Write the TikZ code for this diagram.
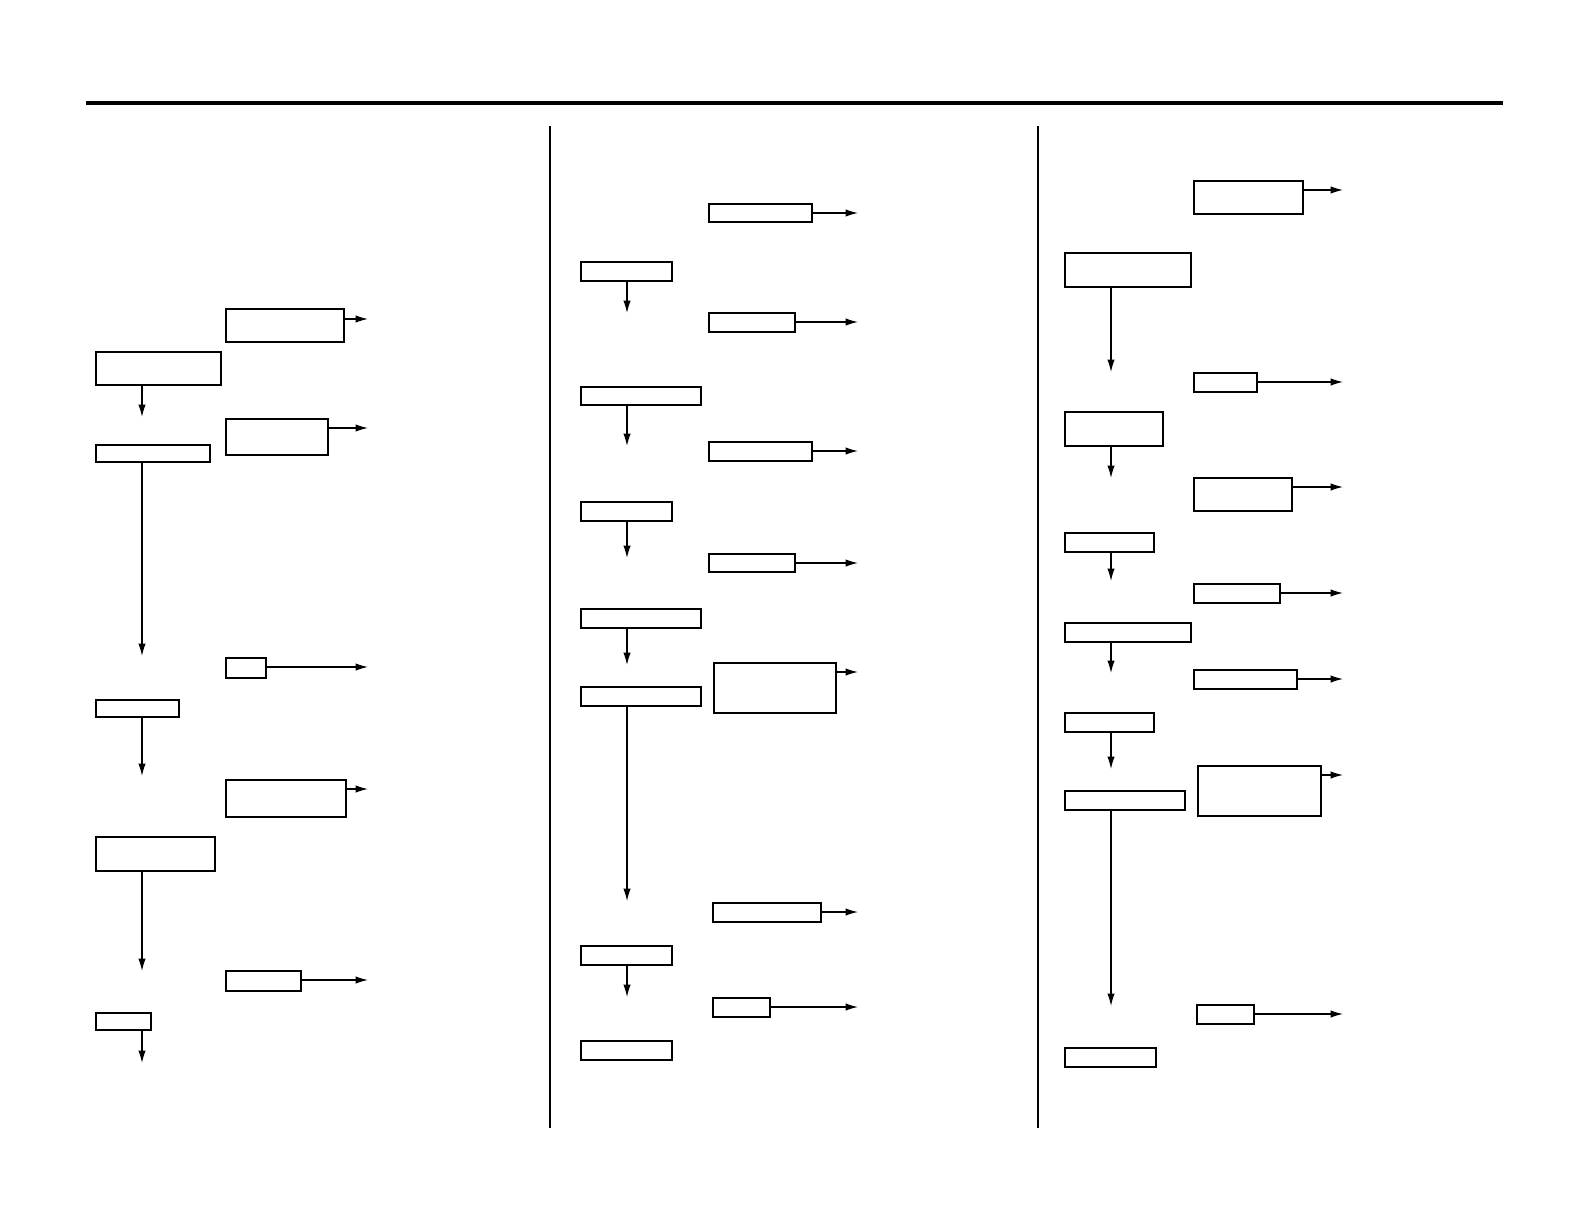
\documentclass[tikz,border=0pt]{standalone}
\usetikzlibrary{arrows.meta,fit}

\begin{document}
\begin{tikzpicture}[x=0.02cm, y=-0.02cm,
  block/.style={draw, line width=0.8pt, inner sep=0pt},
  flow/.style={-{Latex[length=2.5mm, width=1.5mm]}, line width=0.7pt}]

  \useasboundingbox (0,0) rectangle (1588,1223);

  % Frame
  \draw[line width=2.3pt] (86,103) -- (1503,103);
  \draw[line width=1.3pt] (550,126) -- (550,1128);
  \draw[line width=1.3pt] (1038,126) -- (1038,1128);

  % Left column
  \node[block, fit={(96,352) (221,385)}] (Lb) {};
  \node[block, fit={(96,445) (210,462)}] (Ld) {};
  \node[block, fit={(96,700) (179,717)}] (Lf) {};
  \node[block, fit={(96,837) (215,871)}] (Lh) {};
  \node[block, fit={(96,1013) (151,1030)}] (Lj) {};

  \node[block, fit={(226,309) (344,342)}] (La) {};
  \node[block, fit={(226,419) (328,455)}] (Lc) {};
  \node[block, fit={(226,658) (266,678)}] (Le) {};
  \node[block, fit={(226,780) (346,817)}] (Lg) {};
  \node[block, fit={(226,971) (301,991)}] (Li) {};

  \coordinate (lb) at (142,417);
  \coordinate (ld) at (142,656);
  \coordinate (lf) at (142,776);
  \coordinate (lh) at (142,971);
  \coordinate (lj) at (142,1063);
  \coordinate (la) at (368,319);
  \coordinate (lc) at (368,428);
  \coordinate (le) at (368,667);
  \coordinate (lg) at (368,789);
  \coordinate (li) at (368,980);

  \draw[flow] (Lb.south -| lb) -- (lb);
  \draw[flow] (Ld.south -| ld) -- (ld);
  \draw[flow] (Lf.south -| lf) -- (lf);
  \draw[flow] (Lh.south -| lh) -- (lh);
  \draw[flow] (Lj.south -| lj) -- (lj);
  \draw[flow] (La.east |- la) -- (la);
  \draw[flow] (Lc.east |- lc) -- (lc);
  \draw[flow] (Le.east |- le) -- (le);
  \draw[flow] (Lg.east |- lg) -- (lg);
  \draw[flow] (Li.east |- li) -- (li);

  % Middle column
  \node[block, fit={(581,262) (672,281)}] (Mb) {};
  \node[block, fit={(581,387) (701,405)}] (Md) {};
  \node[block, fit={(581,502) (672,521)}] (Mf) {};
  \node[block, fit={(581,609) (701,628)}] (Mh) {};
  \node[block, fit={(581,687) (701,706)}] (Mj) {};
  \node[block, fit={(581,946) (672,965)}] (Ml) {};
  \node[block, fit={(581,1041) (672,1060)}] (Mn) {};

  \node[block, fit={(709,204) (812,222)}] (Ma) {};
  \node[block, fit={(709,313) (795,332)}] (Mc) {};
  \node[block, fit={(709,442) (812,461)}] (Me) {};
  \node[block, fit={(709,554) (795,572)}] (Mg) {};
  \node[block, fit={(714,663) (836,713)}] (Mi) {};
  \node[block, fit={(713,903) (821,922)}] (Mk) {};
  \node[block, fit={(713,998) (770,1017)}] (Mm) {};

  \coordinate (mb) at (627,313);
  \coordinate (md) at (627,446);
  \coordinate (mf) at (627,558);
  \coordinate (mh) at (627,665);
  \coordinate (mj) at (627,901);
  \coordinate (ml) at (627,997);
  \coordinate (ma) at (858,213);
  \coordinate (mc) at (858,322);
  \coordinate (me) at (858,451);
  \coordinate (mg) at (858,563);
  \coordinate (mi) at (858,672);
  \coordinate (mk) at (858,912);
  \coordinate (mm) at (858,1007);

  \draw[flow] (Mb.south -| mb) -- (mb);
  \draw[flow] (Md.south -| md) -- (md);
  \draw[flow] (Mf.south -| mf) -- (mf);
  \draw[flow] (Mh.south -| mh) -- (mh);
  \draw[flow] (Mj.south -| mj) -- (mj);
  \draw[flow] (Ml.south -| ml) -- (ml);
  \draw[flow] (Ma.east |- ma) -- (ma);
  \draw[flow] (Mc.east |- mc) -- (mc);
  \draw[flow] (Me.east |- me) -- (me);
  \draw[flow] (Mg.east |- mg) -- (mg);
  \draw[flow] (Mi.east |- mi) -- (mi);
  \draw[flow] (Mk.east |- mk) -- (mk);
  \draw[flow] (Mm.east |- mm) -- (mm);

  % Right column
  \node[block, fit={(1065,253) (1191,287)}] (Rb) {};
  \node[block, fit={(1065,412) (1163,446)}] (Rd) {};
  \node[block, fit={(1065,533) (1154,552)}] (Rf) {};
  \node[block, fit={(1065,623) (1191,642)}] (Rh) {};
  \node[block, fit={(1065,713) (1154,732)}] (Rj) {};
  \node[block, fit={(1065,791) (1185,810)}] (Rl) {};
  \node[block, fit={(1065,1048) (1156,1067)}] (Rn) {};

  \node[block, fit={(1194,181) (1303,214)}] (Ra) {};
  \node[block, fit={(1194,373) (1257,392)}] (Rc) {};
  \node[block, fit={(1194,478) (1292,511)}] (Re) {};
  \node[block, fit={(1194,584) (1280,603)}] (Rg) {};
  \node[block, fit={(1194,670) (1297,689)}] (Ri) {};
  \node[block, fit={(1198,766) (1321,816)}] (Rk) {};
  \node[block, fit={(1197,1005) (1254,1024)}] (Rm) {};

  \coordinate (rb) at (1111,372);
  \coordinate (rd) at (1111,478);
  \coordinate (rf) at (1111,581);
  \coordinate (rh) at (1111,673);
  \coordinate (rj) at (1111,769);
  \coordinate (rl) at (1111,1006);
  \coordinate (ra) at (1343,190);
  \coordinate (rc) at (1343,382);
  \coordinate (re) at (1343,487);
  \coordinate (rg) at (1343,593);
  \coordinate (ri) at (1343,679);
  \coordinate (rk) at (1343,775);
  \coordinate (rm) at (1343,1014);

  \draw[flow] (Rb.south -| rb) -- (rb);
  \draw[flow] (Rd.south -| rd) -- (rd);
  \draw[flow] (Rf.south -| rf) -- (rf);
  \draw[flow] (Rh.south -| rh) -- (rh);
  \draw[flow] (Rj.south -| rj) -- (rj);
  \draw[flow] (Rl.south -| rl) -- (rl);
  \draw[flow] (Ra.east |- ra) -- (ra);
  \draw[flow] (Rc.east |- rc) -- (rc);
  \draw[flow] (Re.east |- re) -- (re);
  \draw[flow] (Rg.east |- rg) -- (rg);
  \draw[flow] (Ri.east |- ri) -- (ri);
  \draw[flow] (Rk.east |- rk) -- (rk);
  \draw[flow] (Rm.east |- rm) -- (rm);

\end{tikzpicture}
\end{document}
